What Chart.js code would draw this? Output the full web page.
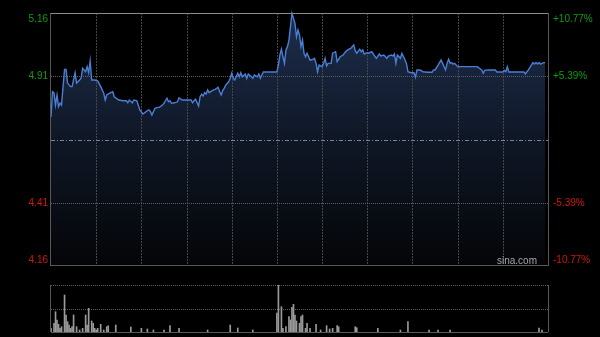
<!DOCTYPE html>
<html>
<head>
<meta charset="utf-8">
<script src="https://cdn.jsdelivr.net/npm/chart.js@4/dist/chart.umd.min.js"></script>
<style>
  html, body { margin: 0; padding: 0; background: #000; }
  #wrap { position: relative; width: 600px; height: 337px; overflow: hidden; background: #000; }
  #mainBox { position: absolute; left: 0; top: 0; width: 600px; height: 272px; }
  #volBox { position: absolute; left: 0; top: 270px; width: 600px; height: 67px; }
</style>
</head>
<body>
<div id="wrap">
  <div id="mainBox"><canvas id="priceChart"></canvas></div>
  <div id="volBox"><canvas id="volChart"></canvas></div>
</div>
<script>
/* 分时图 (sina 风格) — minutes from 09:30, 330 trading minutes */
const prevClose = 4.66;
const priceTicks = [4.16, 4.41, 4.66, 4.91, 5.16];
const pctLabels = ["-10.77%", "-5.39%", "", "+5.39%", "+10.77%"];
const sessionMinutes = 330;

const priceMinutes = [
  0, 1, 2, 3, 4, 5, 6, 7, 8, 9,
  10, 11, 13, 14, 16, 17, 19, 20, 21, 23,
  24, 25, 26, 27, 29, 31, 33, 34, 35, 36,
  37, 39, 41, 42, 45, 48, 50, 51, 52, 54,
  55, 57, 59, 61, 64, 65, 66, 67, 69, 71,
  72, 74, 75, 77, 78, 79, 80, 82, 84, 85,
  87, 89, 91, 93, 94, 95, 96, 98, 99, 100,
  101, 102, 103, 104, 105, 106, 108, 109, 110, 111,
  112, 113, 114, 115, 116, 118, 119, 120, 121, 122,
  124, 125, 126, 127, 129, 130, 131, 133, 134, 135,
  137, 138, 139, 141, 149, 150, 151, 152, 153, 154,
  155, 156, 157, 158, 159, 160, 162, 163, 164, 165,
  166, 167, 168, 169, 170, 172, 174, 175, 176, 177,
  178, 180, 181, 182, 183, 184, 186, 187, 189, 190,
  192, 194, 195, 197, 199, 201, 202, 203, 205, 206,
  207, 208, 210, 211, 213, 214, 216, 218, 219, 221,
  223, 224, 226, 227, 228, 229, 230, 232, 233, 235,
  236, 237, 239, 241, 242, 243, 245, 247, 250, 253,
  254, 255, 257, 259, 260, 262, 263, 264, 265, 266,
  267, 268, 270, 283, 286, 287, 288, 290, 295, 296,
  300, 301, 302, 303, 304, 314, 315, 316, 317, 318,
  320, 321, 322, 323, 324, 325, 327, 328
];
const prices = [
  4.749, 4.849, 4.844, 4.796, 4.836, 4.790, 4.804, 4.796, 4.869, 4.937,
  4.937, 4.883, 4.869, 4.869, 4.924, 4.883, 4.895, 4.903, 4.941, 4.928,
  4.948, 4.924, 4.970, 4.895, 4.895, 4.892, 4.869, 4.856, 4.843, 4.816,
  4.836, 4.843, 4.849, 4.829, 4.816, 4.813, 4.813, 4.805, 4.816, 4.805,
  4.816, 4.813, 4.777, 4.761, 4.774, 4.777, 4.770, 4.757, 4.783, 4.787,
  4.787, 4.796, 4.803, 4.823, 4.809, 4.813, 4.803, 4.805, 4.809, 4.825,
  4.816, 4.816, 4.816, 4.816, 4.805, 4.813, 4.819, 4.792, 4.829, 4.839,
  4.832, 4.845, 4.840, 4.856, 4.845, 4.849, 4.856, 4.858, 4.862, 4.866,
  4.849, 4.836, 4.853, 4.862, 4.875, 4.888, 4.902, 4.922, 4.902, 4.895,
  4.922, 4.908, 4.924, 4.908, 4.919, 4.902, 4.919, 4.908, 4.902, 4.915,
  4.908, 4.919, 4.902, 4.927, 4.927, 4.927, 4.954, 4.994, 5.017, 4.987,
  4.961, 5.014, 5.027, 5.053, 5.106, 5.158, 5.119, 5.066, 5.093, 5.073,
  5.027, 5.053, 5.001, 4.987, 5.001, 4.974, 4.977, 4.981, 4.961, 4.928,
  4.954, 4.948, 4.961, 4.981, 4.951, 4.961, 4.961, 5.001, 5.007, 4.968,
  4.987, 4.994, 5.003, 5.014, 5.020, 5.034, 5.011, 5.001, 5.017, 5.007,
  5.014, 4.998, 5.003, 5.001, 5.007, 4.998, 4.981, 4.998, 4.990, 4.994,
  4.981, 4.990, 4.994, 4.990, 4.998, 4.961, 4.994, 4.981, 5.000, 4.975,
  4.961, 4.928, 4.924, 4.924, 4.906, 4.935, 4.935, 4.928, 4.926, 4.926,
  4.935, 4.935, 4.954, 4.974, 4.961, 4.935, 4.961, 4.977, 4.961, 4.964,
  4.958, 4.961, 4.948, 4.948, 4.935, 4.922, 4.933, 4.935, 4.935, 4.927,
  4.927, 4.933, 4.928, 4.948, 4.927, 4.927, 4.919, 4.928, 4.935, 4.945,
  4.964, 4.958, 4.964, 4.958, 4.964, 4.958, 4.964, 4.964
];

const volMinutes = [
  0, 2, 3, 4, 5, 6, 7, 9, 10, 11,
  12, 13, 14, 15, 17, 19, 21, 23, 24, 25,
  27, 28, 29, 30, 31, 33, 35, 37, 38, 43,
  53, 60, 64, 68, 75, 79, 85, 104, 119, 124,
  134, 150, 151, 153, 154, 156, 158, 159, 160, 161,
  162, 163, 165, 166, 167, 169, 170, 172, 176, 179,
  183, 185, 187, 190, 191, 202, 203, 217, 232, 237,
  251, 257, 265, 324, 326
];
const volumes = [
  370, 870, 2030, 1200, 770, 370, 530, 3700, 1700, 1030,
  700, 370, 530, 1700, 530, 200, 370, 1700, 700, 2370,
  1100, 870, 370, 200, 370, 770, 200, 530, 630, 700,
  500, 370, 300, 200, 200, 630, 370, 200, 700, 400,
  200, 1900, 4700, 2530, 370, 530, 1530, 1200, 2470, 2770,
  1700, 1100, 870, 1530, 1700, 370, 870, 370, 770, 200,
  630, 300, 370, 630, 530, 530, 430, 370, 200, 1030,
  200, 200, 200, 400, 200
];
const volMax = 4700;

const colors = {
  up: "#0f9c0f",
  down: "#d3160e",
  line: "#4a7fd6",
  vGrid: "#474747",
  hGrid: "#5e5e5e",
  mid: "#7b8393",
  frame: "#585858",
  frameTop: "#8a8a8a",
  vol: "#9a9a9a",
  mark: "#a6a6a6",
};
const labelFont = "10px 'Liberation Sans', Arial, sans-serif";

function hLine(ctx, x1, x2, y, color, dash) {
  ctx.beginPath();
  ctx.setLineDash(dash || []);
  ctx.strokeStyle = color;
  ctx.moveTo(x1, y);
  ctx.lineTo(x2, y);
  ctx.stroke();
}
function vLine(ctx, x, y1, y2, color, dash) {
  ctx.beginPath();
  ctx.setLineDash(dash || []);
  ctx.strokeStyle = color;
  ctx.moveTo(x, y1);
  ctx.lineTo(x, y2);
  ctx.stroke();
}
const px = (v) => Math.round(v) + 0.5;

/* grid, frame and axis labels of the price panel */
const pricePanel = {
  id: "pricePanel",
  beforeDatasetsDraw(chart) {
    const { ctx, chartArea: a, scales } = chart;
    ctx.save();
    ctx.lineWidth = 1;
    for (let m = 30; m < sessionMinutes; m += 30) {
      vLine(ctx, px(scales.x.getPixelForValue(m)), a.top, a.bottom, colors.vGrid, [2, 1]);
    }
    priceTicks.forEach((t) => {
      if (t === priceTicks[0] || t === priceTicks[priceTicks.length - 1]) return;
      const y = px(scales.y.getPixelForValue(t));
      if (t === prevClose) hLine(ctx, a.left, a.right, y, colors.mid, [4, 2, 1, 2]);
      else hLine(ctx, a.left, a.right, y, colors.hGrid, [1, 1]);
    });
    ctx.restore();
  },
  afterDraw(chart) {
    const { ctx, chartArea: a, scales } = chart;
    ctx.save();
    ctx.lineWidth = 1;
    hLine(ctx, a.left, a.right, px(a.top), colors.frameTop);
    hLine(ctx, a.left, a.right, px(a.bottom) - 1, colors.frame);
    vLine(ctx, px(a.left) - 1, a.top, a.bottom, colors.frame);
    vLine(ctx, px(a.right), a.top, a.bottom, colors.frame);

    ctx.font = labelFont;
    ctx.textBaseline = "middle";
    priceTicks.forEach((t, i) => {
      if (t === prevClose) return;
      let y = scales.y.getPixelForValue(t);
      y = Math.min(Math.max(y, a.top + 6), a.bottom - 6);
      ctx.fillStyle = t > prevClose ? colors.up : colors.down;
      ctx.textAlign = "right";
      ctx.fillText(t.toFixed(2), a.left - 3, y);
      ctx.textAlign = "left";
      ctx.fillText(pctLabels[i], a.right + 5, y);
    });
    ctx.fillStyle = colors.mark;
    ctx.textAlign = "right";
    ctx.fillText("sina.com", a.right - 11, a.bottom - 5);
    ctx.restore();
  },
};

/* frame and grid of the volume panel */
const volPanel = {
  id: "volPanel",
  beforeDatasetsDraw(chart) {
    const { ctx, chartArea: a, scales } = chart;
    ctx.save();
    ctx.lineWidth = 1;
    hLine(ctx, a.left, a.right, px(scales.y.getPixelForValue(volMax)), colors.hGrid, [1, 1]);
    hLine(ctx, a.left, a.right, px(scales.y.getPixelForValue(volMax / 2)), colors.hGrid, [1, 1]);
    ctx.restore();
  },
  afterDraw(chart) {
    const { ctx, chartArea: a } = chart;
    ctx.save();
    ctx.lineWidth = 1;
    hLine(ctx, a.left, a.right, px(a.bottom), colors.frame);
    vLine(ctx, px(a.left) - 1, a.top, a.bottom, colors.frame);
    vLine(ctx, px(a.right), a.top, a.bottom, colors.frame);
    ctx.restore();
  },
};

const fillGradient = (c) => {
  const a = c.chart.chartArea;
  if (!a) return "transparent";
  const g = c.chart.ctx.createLinearGradient(0, a.top, 0, a.bottom);
  g.addColorStop(0, "#1e2e4d");
  g.addColorStop(0.5, "#0f1726");
  g.addColorStop(1, "#040507");
  return g;
};

new Chart(document.getElementById("priceChart"), {
  type: "line",
  data: {
    datasets: [{
      data: priceMinutes.map((m, i) => ({ x: m, y: prices[i] })),
      borderColor: colors.line,
      borderWidth: 1.4,
      backgroundColor: fillGradient,
      fill: "start",
      pointRadius: 0,
      tension: 0,
      clip: { left: 0, right: 0, top: 3, bottom: 0 },
    }],
  },
  options: {
    responsive: true,
    maintainAspectRatio: false,
    animation: false,
    events: [],
    layout: { padding: { left: 51, right: 52, top: 13, bottom: 6 } },
    plugins: { legend: { display: false }, tooltip: { enabled: false }, filler: { drawTime: "beforeDraw" } },
    scales: {
      x: { type: "linear", display: false, min: 0, max: sessionMinutes },
      y: { display: false, min: priceTicks[0], max: priceTicks[priceTicks.length - 1] },
    },
  },
  plugins: [pricePanel],
});

new Chart(document.getElementById("volChart"), {
  type: "bar",
  data: {
    datasets: [{
      data: volMinutes.map((m, i) => ({ x: m, y: volumes[i] })),
      backgroundColor: colors.vol,
      barThickness: 1,
      borderWidth: 0,
    }],
  },
  options: {
    responsive: true,
    maintainAspectRatio: false,
    animation: false,
    events: [],
    layout: { padding: { left: 51, right: 52, top: 15, bottom: 5 } },
    plugins: { legend: { display: false }, tooltip: { enabled: false } },
    scales: {
      x: { type: "linear", display: false, offset: false, grid: { offset: false }, min: 0, max: sessionMinutes },
      y: { display: false, min: 0, max: volMax },
    },
  },
  plugins: [volPanel],
});
</script>
</body>
</html>
